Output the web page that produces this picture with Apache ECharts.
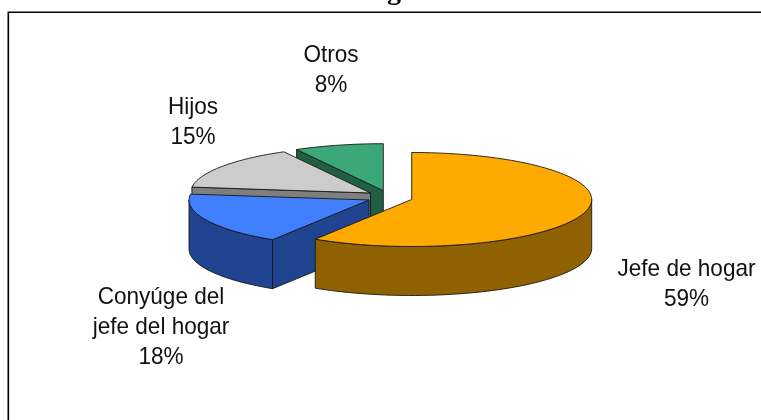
<!DOCTYPE html>
<html>
<head>
<meta charset="utf-8">
<style>html,body{margin:0;padding:0;background:#fff}#c{width:761px;height:420px}</style>
<script src="https://cdn.jsdelivr.net/npm/echarts@6/dist/echarts.min.js"></script>
</head>
<body>
<div id="c"></div>
<script>
var categories = ['Jefe de hogar', 'Conyúge del\njefe del hogar', 'Hijos', 'Otros'];
var values = [59, 18, 15, 8];

// Layout and style of the pseudo-3D pie, kept apart from the data
var RX = 180, RY = 47, DEPTH = 49;
var centers = [[411.7, 199.5], [369, 200], [370.5, 193], [383.3, 190.7]];
var topColors = ['#ffaa00', '#4080ff', '#cccccc', '#3ca878'];
var sideColors = ['#8f6100', '#204490', '#7f7f7f', '#1f5f42'];
var labelAnchors = [[686.5, 284], [161, 327], [193, 122], [331, 70]];
var EDGE = '#1a1a1a';

var total = values.reduce(function (a, b) { return a + b; }, 0);
var startAngles = [];
values.reduce(function (acc, v, i) { startAngles[i] = acc; return acc + v; }, 0);

function pt(c, deg, dy) {
  var r = deg * Math.PI / 180;
  return [c[0] + RX * Math.sin(r), c[1] - RY * Math.cos(r) + (dy || 0)];
}
function arc(c, from, to, dy) {
  var pts = [], n = Math.max(2, Math.ceil(Math.abs(to - from) / 2));
  for (var k = 0; k <= n; k++) pts.push(pt(c, from + (to - from) * k / n, dy));
  return pts;
}
function poly(points, fill) {
  return { type: 'polygon', shape: { points: points },
    style: { fill: fill, stroke: EDGE, lineWidth: 0.9, lineJoin: 'round' }, silent: true };
}
function renderItem(params, api) {
  var v = api.value(0), i = api.value(1), c = centers[i];
  var a0 = startAngles[i] / total * 360, a1 = a0 + v / total * 360;
  var children = [];
  // radial cut faces: drawn only if their outward normal points down the screen
  [a0, a1].forEach(function (a, idx) {
    var s = Math.sin(a * Math.PI / 180);
    var ny = idx === 0 ? -s : s;
    if (ny > 0.001) {
      var p = pt(c, a);
      children.push(poly([c, p, [p[0], p[1] + DEPTH], [c[0], c[1] + DEPTH]], sideColors[i]));
    }
  });
  // outer wall: only the front half of the ellipse shows
  var w0 = Math.max(a0, 90), w1 = Math.min(a1, 270);
  if (w1 > w0) {
    children.push(poly(arc(c, w0, w1).concat(arc(c, w1, w0, DEPTH)), sideColors[i]));
  }
  children.push(poly([c].concat(arc(c, a0, a1)), topColors[i]));
  var lab = labelAnchors[i];
  children.push({ type: 'text', z2: 50, silent: true, x: lab[0], y: lab[1], scaleX: 0.94, style: {
    x: 0, y: 0, text: categories[i] + '\n' + v + '%',
    align: 'center', verticalAlign: 'middle', fill: '#111',
    font: '24px "Liberation Sans", Arial, sans-serif', lineHeight: 30 } });
  return { type: 'group', children: children };
}

var drawOrder = values.map(function (v, i) { return [v, i]; }).reverse();

var chart = echarts.init(document.getElementById('c'), null, { renderer: 'canvas' });
chart.setOption({
  animation: false,
  backgroundColor: '#ffffff',
  title: { text: 'g', left: 387, top: -22, padding: 0,
    textStyle: { fontFamily: '"Liberation Serif", "Times New Roman", serif', fontWeight: 'bold', fontSize: 28, color: '#000' } },
  graphic: [
    { type: 'polyline', silent: true, z: 0,
      shape: { points: [[8.3, 430], [8.3, 12.3], [770, 12.3]] },
      style: { fill: null, stroke: '#000', lineWidth: 1.6 } }
  ],
  series: [{ type: 'custom', coordinateSystem: 'none', renderItem: renderItem, data: drawOrder, silent: true }]
});
</script>
</body>
</html>
